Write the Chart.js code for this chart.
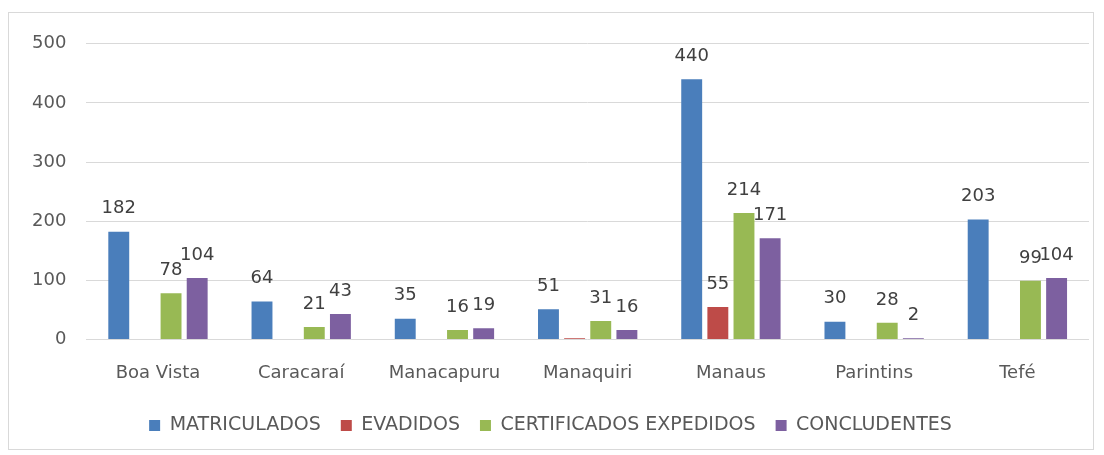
<!DOCTYPE html>
<html>
<head>
<meta charset="utf-8">
<script src="https://cdn.jsdelivr.net/npm/chart.js@4.4.1/dist/chart.umd.min.js"></script>
<style>
  body { margin: 0; background: #fff; }
  #box { position: absolute; left: 8px; top: 12px; width: 1086px; height: 438px; border: 1px solid #d9d9d9; box-sizing: border-box; }
  canvas { display: block; }
</style>
</head>
<body>
<div id="box"><canvas id="chart"></canvas></div>
<script>
const cities = ["Boa Vista", "Caracaraí", "Manacapuru", "Manaquiri", "Manaus", "Parintins", "Tefé"];
const matriculados = [182, 64, 35, 51, 440, 30, 203];
const evadidos = [null, null, null, 2, 55, null, null];
const certificados = [78, 21, 16, 31, 214, 28, 99];
const concludentes = [104, 43, 19, 16, 171, 2, 104];
const yTicks = [0, 100, 200, 300, 400, 500];

const textColor = "#595959";
const fontFamily = "'DejaVu Sans', sans-serif";
const fontSize = 18;

// value labels above each bar (Manaquiri's tiny EVADIDOS bar has none in the original)
const valueLabels = {
  id: "valueLabels",
  afterDatasetsDraw(chart) {
    const ctx = chart.ctx;
    ctx.save();
    ctx.font = fontSize + "px " + fontFamily;
    ctx.fillStyle = "#404040";
    ctx.textAlign = "center";
    ctx.textBaseline = "bottom";
    chart.data.datasets.forEach((ds, i) => {
      chart.getDatasetMeta(i).data.forEach((bar, j) => {
        const v = ds.data[j];
        if (v == null || (i === 1 && v < 5)) return;
        ctx.fillText(v, bar.x, bar.y - 14);
      });
    });
    ctx.restore();
  }
};

new Chart(document.getElementById("chart"), {
  type: "bar",
  data: {
    labels: cities,
    datasets: [
      { label: "MATRICULADOS", data: matriculados, backgroundColor: "#4a7ebb" },
      { label: "EVADIDOS", data: evadidos, backgroundColor: "#be4b48" },
      { label: "CERTIFICADOS EXPEDIDOS", data: certificados, backgroundColor: "#98b954" },
      { label: "CONCLUDENTES", data: concludentes, backgroundColor: "#7d60a0" }
    ]
  },
  options: {
    responsive: true,
    maintainAspectRatio: false,
    animation: false,
    layout: { padding: { left: 3, right: 4, top: 12, bottom: 4 } },
    datasets: { bar: { barPercentage: 0.8, categoryPercentage: 0.73 } },
    scales: {
      x: {
        grid: { display: false },
        border: { display: false },
        ticks: { color: textColor, font: { size: fontSize, family: fontFamily }, padding: 15 },
        afterFit: scale => { scale.height -= 3; }
      },
      y: {
        min: 0,
        max: 500,
        afterBuildTicks: axis => { axis.ticks = yTicks.map(v => ({ value: v })); },
        grid: { color: "#d9d9d9", drawTicks: false },
        border: { display: false },
        ticks: { color: textColor, font: { size: fontSize, family: fontFamily }, padding: 20 }
      }
    },
    plugins: {
      legend: {
        position: "bottom",
        labels: { color: textColor, font: { size: 19, family: fontFamily }, boxWidth: 11, boxHeight: 11, padding: 20 }
      },
      tooltip: { enabled: false }
    }
  },
  plugins: [valueLabels]
});
</script>
</body>
</html>
